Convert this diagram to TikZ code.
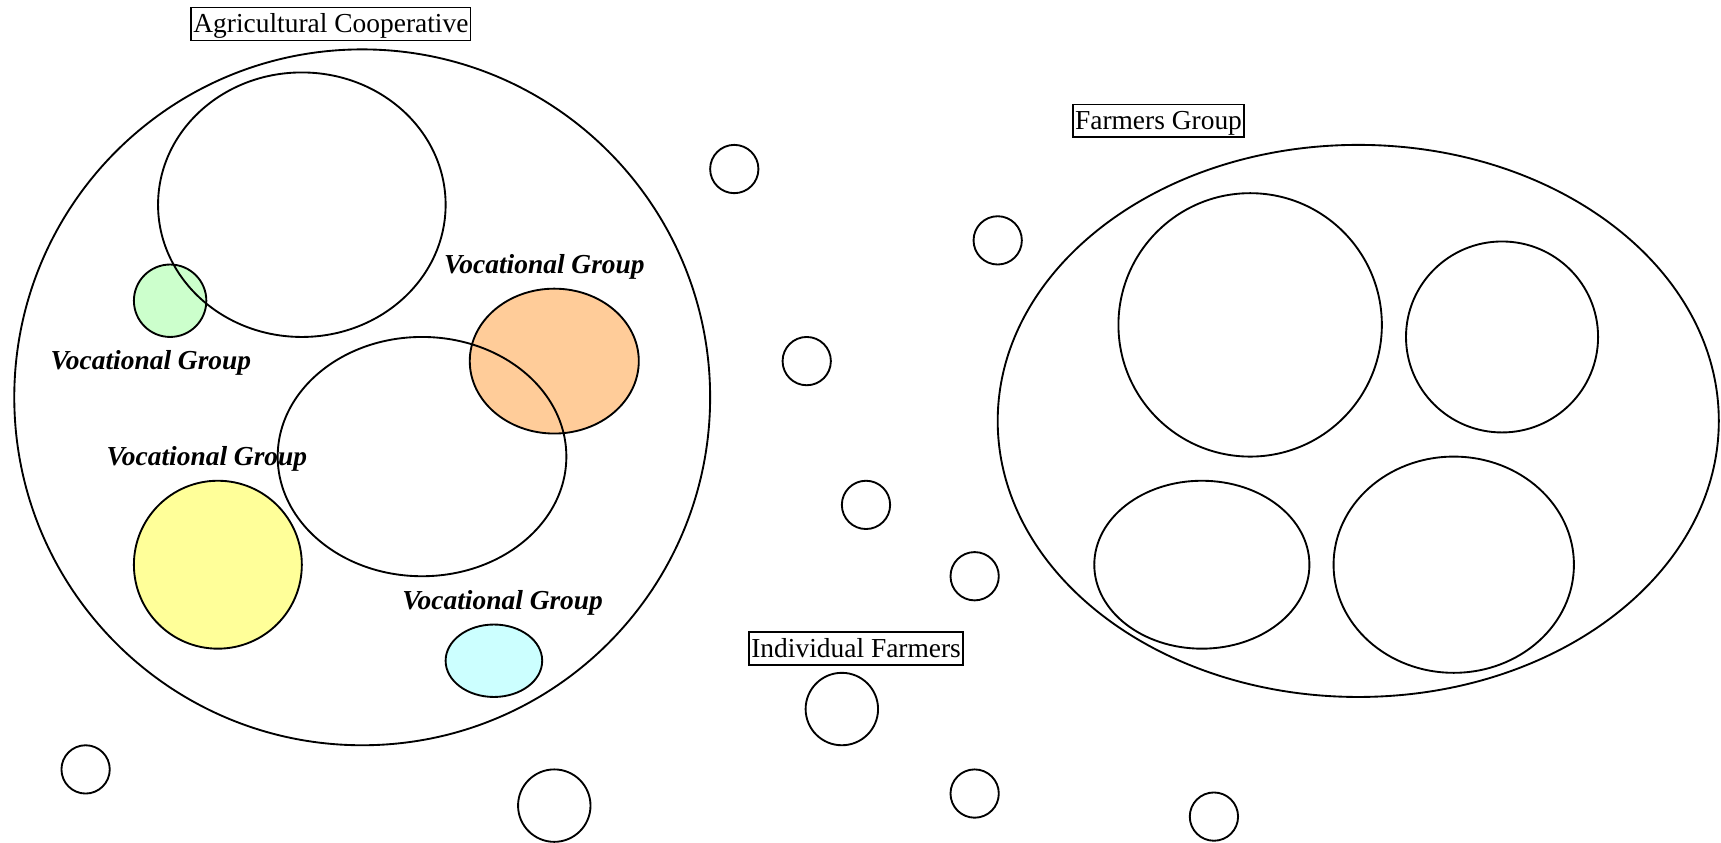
\documentclass[tikz,border=0pt]{standalone}
\usepackage{fontspec}
\setmainfont{Liberation Serif}
\begin{document}
\begin{tikzpicture}[x=1pt,y=-1pt,
  outline/.style={draw=black,line width=1.7pt},
  titlebox/.style={draw=black,line width=1.3pt,inner sep=2pt,
    text height=21pt,text depth=5pt,font=\fontsize{25}{30}\selectfont},
  voclabel/.style={inner sep=0pt,font=\fontsize{25}{30}\selectfont\bfseries\itshape}]
\useasboundingbox (0,0) rectangle (1568,768);

% Agricultural cooperative
\node[titlebox] (coopTitle) at (301.5,22) {Agricultural Cooperative};
\draw[outline] (330,362) circle [radius=317pt];
% coloured vocational groups
\draw[outline,fill={rgb,255:red,204;green,255;blue,204}] (155,274) circle [radius=33pt];
\draw[outline,fill={rgb,255:red,255;green,204;blue,153}] (505,329) ellipse [x radius=77pt,y radius=66pt];
\draw[outline,fill={rgb,255:red,255;green,255;blue,153}] (198.5,514.5) circle [radius=76.5pt];
\draw[outline,fill={rgb,255:red,204;green,255;blue,255}] (450,602) ellipse [x radius=44pt,y radius=33pt];
% labels
\node[voclabel] (vocA) at (137.5,330.5) {Vocational Group};
\node[voclabel] (vocB) at (496,243.5) {Vocational Group};
\node[voclabel] (vocC) at (188.5,418.5) {Vocational Group};
\node[voclabel] (vocD) at (458,549.5) {Vocational Group};
% uncoloured groups inside the cooperative
\draw[outline] (275,186.5) ellipse [x radius=131pt,y radius=120.5pt];
\draw[outline] (384.5,416) ellipse [x radius=131.5pt,y radius=109pt];

% Farmers group
\node[titlebox] (fgTitle) at (1055.5,110) {Farmers Group};
\draw[outline] (1237.5,383.5) ellipse [x radius=328.5pt,y radius=251.5pt];
\draw[outline] (1139,296) circle [radius=120pt];
\draw[outline] (1368.5,307) ellipse [x radius=87.5pt,y radius=87pt];
\draw[outline] (1095,514.5) ellipse [x radius=98pt,y radius=76.5pt];
\draw[outline] (1324.5,514.5) ellipse [x radius=109.5pt,y radius=98.5pt];

% Individual farmers
\node[titlebox] (indTitle) at (780,591) {Individual Farmers};
\foreach \cx/\cy in {669/154, 909/219, 735/329, 789/460, 888/525,
                     888/723, 1106/744, 78/701}
  \draw[outline] (\cx,\cy) circle [radius=22pt];
\draw[outline] (767,646) circle [radius=33pt];
\draw[outline] (505,734) circle [radius=33pt];
\end{tikzpicture}
\end{document}
